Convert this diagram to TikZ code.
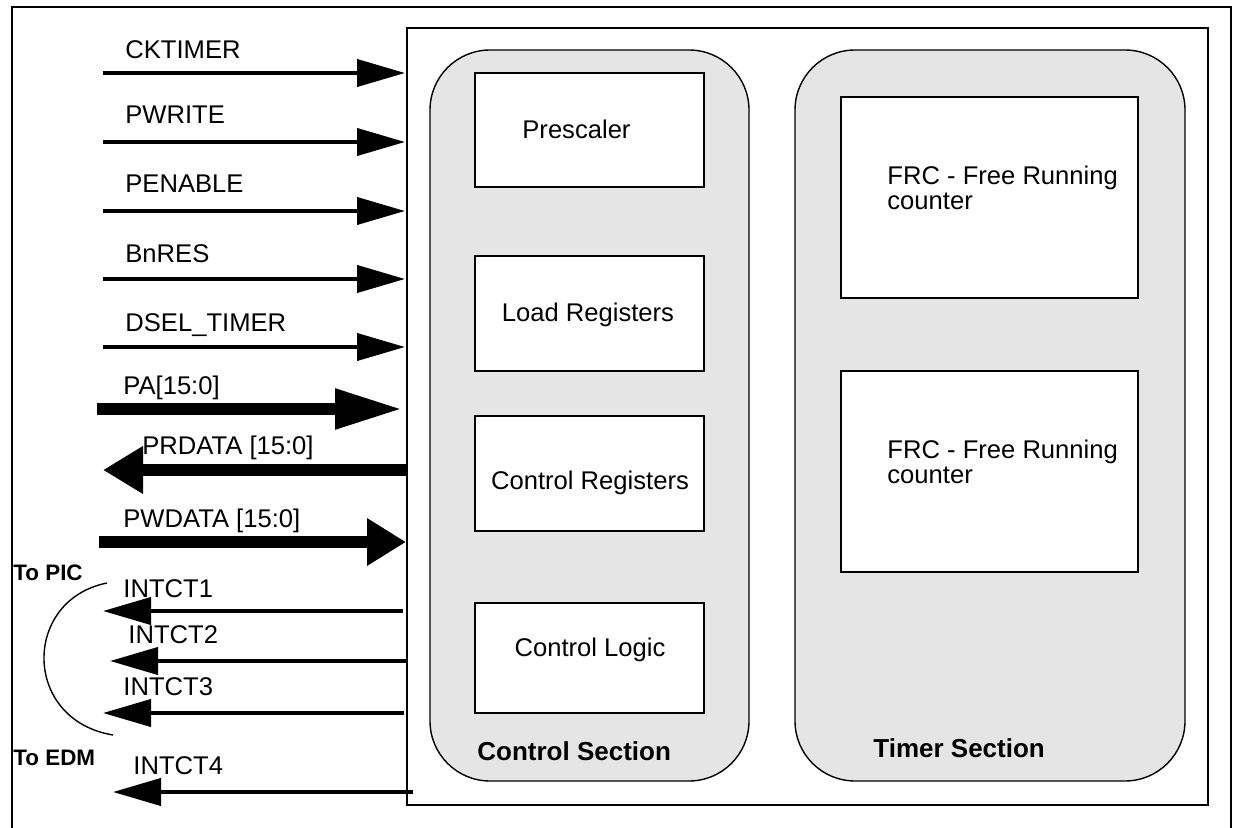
\documentclass[tikz,border=0pt]{standalone}
\usepackage{fontspec}
\setmainfont{Liberation Sans}
\usetikzlibrary{arrows.meta,fit}
\definecolor{secgray}{HTML}{E5E5E5}
\begin{document}
\begin{tikzpicture}[x=0.5pt,y=-0.5pt,
  frame/.style={draw,line width=1.2pt,inner sep=0pt},
  section/.style={draw,line width=0.7pt,fill=secgray,rounded corners=30pt,inner sep=0pt},
  blk/.style={draw,line width=1.2pt,fill=white,inner sep=0pt},
  lbl/.style={font=\fontsize{12.8}{12.2}\selectfont,anchor=base west,inner sep=0pt},
  blbl/.style={font=\bfseries\fontsize{11.2}{12}\selectfont,anchor=base west,inner sep=0pt},
  slbl/.style={font=\bfseries\fontsize{13}{14}\selectfont,anchor=base west,inner sep=0pt},
  sig/.style={line width=2pt,-{Triangle[length=24pt,width=13.5pt]}},
  bus/.style={line width=5.75pt},
  curve/.style={line width=0.7pt}]
\useasboundingbox (0,0) rectangle (1237,828);
\clip (0,0) rectangle (1237,828);
% outer frame and chip frame
\coordinate (oa) at (12,7); \coordinate (ob) at (1231,900);
\node[frame,fit=(oa)(ob)] (outer) {};
\coordinate (ca) at (407,28); \coordinate (cb) at (1208,805);
\node[frame,fit=(ca)(cb)] (chip) {};
% sections
\coordinate (csa) at (430,50); \coordinate (csb) at (749,781);
\node[section,fit=(csa)(csb)] (ctrlsec) {};
\coordinate (tsa) at (795,50); \coordinate (tsb) at (1185,781);
\node[section,fit=(tsa)(tsb)] (timsec) {};
% blocks
\coordinate (p1) at (475,73);  \coordinate (p2) at (704,187);
\node[blk,fit=(p1)(p2)] (presc) {};
\coordinate (l1) at (475,256); \coordinate (l2) at (704,371);
\node[blk,fit=(l1)(l2)] (loadreg) {};
\coordinate (r1) at (475,416); \coordinate (r2) at (704,531);
\node[blk,fit=(r1)(r2)] (ctrlreg) {};
\coordinate (g1) at (475,603); \coordinate (g2) at (704,713);
\node[blk,fit=(g1)(g2)] (ctrllog) {};
\coordinate (f1) at (841,97);  \coordinate (f2) at (1138,298);
\node[blk,fit=(f1)(f2)] (frc1) {};
\coordinate (h1) at (841,371); \coordinate (h2) at (1138,572);
\node[blk,fit=(h1)(h2)] (frc2) {};
% block texts
\node[lbl] (tpresc) at (522,139) {Prescaler};
\node[lbl,anchor=base] (tload) at (588,322) {Load Registers};
\node[lbl,anchor=base] (tcreg) at (590,489) {Control Registers};
\node[lbl,anchor=base] (tclog) at (590,656) {Control Logic};
\node[lbl,align=left,anchor=north west] (tfrc1) at (887,166) {FRC - Free Running\\counter};
\node[lbl,align=left,anchor=north west] (tfrc2) at (887,440) {FRC - Free Running\\counter};
\node[slbl] (tcsec) at (477,760) {Control Section};
\node[slbl] (ttsec) at (873,757) {Timer Section};
% input signals
\coordinate (s1) at (103,73);  \coordinate (e1) at (405,73);
\coordinate (s2) at (103,142); \coordinate (e2) at (405,142);
\coordinate (s3) at (103,211); \coordinate (e3) at (405,211);
\coordinate (s4) at (103,279); \coordinate (e4) at (405,279);
\coordinate (s5) at (103,347); \coordinate (e5) at (405,347);
\draw[sig] (s1) -- (e1);
\draw[sig] (s2) -- (e2);
\draw[sig] (s3) -- (e3);
\draw[sig] (s4) -- (e4);
\draw[sig] (s5) -- (e5);
% buses
\coordinate (pas) at (97,409);  \coordinate (pae) at (402,409);
\coordinate (prs) at (408,470); \coordinate (pre) at (103,470);
\coordinate (pws) at (99,542);  \coordinate (pwe) at (406,542);
\draw[bus,-{Triangle[length=33.5pt,width=19pt]}] (pas) -- (pae);
\draw[bus,-{Triangle[length=20pt,width=22.5pt]}] (prs) -- (pre);
\draw[bus,-{Triangle[length=19.5pt,width=22.5pt]}] (pws) -- (pwe);
% interrupt outputs
\coordinate (i1s) at (403,611); \coordinate (i1e) at (103,611);
\coordinate (i2s) at (407,661); \coordinate (i2e) at (110,661);
\coordinate (i3s) at (404,713); \coordinate (i3e) at (103,713);
\coordinate (i4s) at (413,792); \coordinate (i4e) at (113,792);
\draw[sig] (i1s) -- (i1e);
\draw[sig] (i2s) -- (i2e);
\draw[sig] (i3s) -- (i3e);
\draw[sig] (i4s) -- (i4e);
% bracket arc
\coordinate (arcA) at (107,583); \coordinate (arcB) at (113,735);
\draw[curve] (arcA) .. controls (22,600) and (22,720) .. (arcB);
% signal labels
\node[lbl] (lck) at (125,59) {CKTIMER};
\node[lbl] (lpw) at (125,124) {PWRITE};
\node[lbl] (lpe) at (125,193) {PENABLE};
\node[lbl] (lbn) at (125,263) {BnRES};
\node[lbl] (lds) at (125,332) {DSEL\_TIMER};
\node[lbl] (lpa) at (123,395) {PA[15:0]};
\node[lbl] (lpr) at (142,455) {PRDATA [15:0]};
\node[lbl] (lpwd) at (123,527) {PWDATA [15:0]};
\node[lbl] (li1) at (123,597) {INTCT1};
\node[lbl] (li2) at (128,643) {INTCT2};
\node[lbl] (li3) at (123,695) {INTCT3};
\node[lbl] (li4) at (133,774) {INTCT4};
\node[blbl] (lpic) at (13,581) {To PIC};
\node[blbl] (ledm) at (13,765) {To EDM};
\end{tikzpicture}
\end{document}
